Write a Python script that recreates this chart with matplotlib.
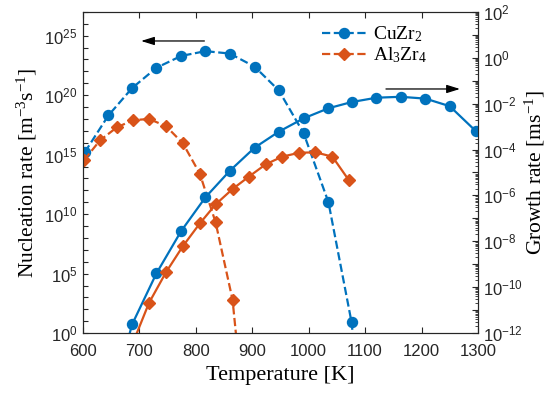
import numpy as np
import matplotlib
matplotlib.use("Agg")
import matplotlib.pyplot as plt
from matplotlib.ticker import FixedLocator, FuncFormatter, LogLocator, NullFormatter

# Data (temperature in K, values as log10)
t_cu_nuc = [603, 645, 687, 730, 774, 817, 860, 904, 947, 991, 1035, 1076, 1120]
log_cu_nuc = [15.2, 18.3, 20.6, 22.3, 23.3, 23.7, 23.5, 22.4, 20.4, 16.8, 11.0, 0.9, -20.0]

t_cu_gr = [645, 687, 730, 774, 817, 860, 904, 947, 991, 1035, 1076, 1120, 1163, 1207, 1250, 1296]
log_cu_gr = [-15.4, -11.62, -9.40, -7.55, -6.08, -4.93, -3.92, -3.22, -2.64, -2.20, -1.93,
             -1.74, -1.70, -1.78, -2.11, -3.19]

t_al_nuc = [602, 630, 660, 689, 717, 747, 777, 807, 835, 865, 894]
log_al_nuc = [14.55, 16.2, 17.3, 17.9, 18.0, 17.4, 15.95, 13.4, 9.3, 2.8, -11.0]

t_al_gr = [688, 717, 747, 777, 807, 835, 865, 894, 924, 953, 983, 1012, 1042, 1071]
log_al_gr = [-12.45, -10.68, -9.35, -8.21, -7.22, -6.39, -5.72, -5.18, -4.64, -4.31, -4.14,
             -4.12, -4.31, -5.33]

blue = "#0072BD"
orange = "#D95319"
dark = "#262626"

plt.rcParams["font.family"] = "Liberation Sans"
plt.rcParams["mathtext.default"] = "regular"
plt.rcParams["axes.edgecolor"] = dark
plt.rcParams["xtick.color"] = dark
plt.rcParams["ytick.color"] = dark

serif = "Liberation Serif"

fig = plt.figure(figsize=(5.5, 3.97), dpi=100)
ax1 = fig.add_axes([0.151, 0.161, 0.718, 0.809])
ax2 = ax1.twinx()

# nucleation (left axis, dashed)
ax1.semilogy(t_cu_nuc, 10.0 ** np.array(log_cu_nuc), "--o", color=blue, lw=1.6, ms=7.2,
             label="CuZr$_2$")
ax1.semilogy(t_al_nuc, 10.0 ** np.array(log_al_nuc), "--D", color=orange, lw=1.6, ms=6.2,
             label="Al$_3$Zr$_4$")

# growth (right axis, solid)
ax2.semilogy(t_cu_gr, 10.0 ** np.array(log_cu_gr), "-o", color=blue, lw=1.6, ms=7.2)
ax2.semilogy(t_al_gr, 10.0 ** np.array(log_al_gr), "-D", color=orange, lw=1.6, ms=6.2)

ax1.set_xlim(600, 1300)
ax1.set_ylim(1e0, 1e27)
ax2.set_ylim(1e-12, 1e2)

# ticks
ax1.set_xticks(np.arange(600, 1301, 100))
ax1.yaxis.set_major_locator(FixedLocator([10.0 ** k for k in range(0, 28)]))
ax1.yaxis.set_minor_locator(FixedLocator([]))
ax1.yaxis.set_major_formatter(FuncFormatter(
    lambda v, p: "$10^{%d}$" % round(np.log10(v)) if round(np.log10(v)) % 5 == 0 else ""))
ax2.yaxis.set_major_locator(FixedLocator([10.0 ** k for k in range(-12, 3)]))
ax2.yaxis.set_minor_locator(LogLocator(base=10, subs=np.arange(2, 10), numticks=30))
ax2.yaxis.set_minor_formatter(NullFormatter())
ax2.yaxis.set_major_formatter(FuncFormatter(
    lambda v, p: "$10^{%d}$" % round(np.log10(v)) if round(np.log10(v)) % 2 == 0 else ""))

ax1.tick_params(axis="x", direction="in", top=True, length=4, labelsize=12, width=0.8, pad=8)
ax1.tick_params(axis="y", direction="in", length=3.5, labelsize=12, width=0.8, pad=4)
ax2.tick_params(axis="y", which="major", direction="in", length=4, labelsize=12, width=0.8)
ax2.tick_params(axis="y", which="minor", direction="in", length=2, width=0.6)

ax1.set_xlabel("Temperature [K]", family=serif, fontsize=16, labelpad=5)
ax1.set_ylabel("Nucleation rate [m$^{-3}$s$^{-1}$]", family=serif, fontsize=15.5, labelpad=4)
ax2.set_ylabel("Growth rate [ms$^{-1}$]", family=serif, fontsize=15.5, labelpad=0)

# arrows pointing to each axis
ax1.annotate("", xy=(698, 3.6e24), xytext=(820, 3.6e24),
             arrowprops=dict(arrowstyle="-|>,head_length=0.8,head_width=0.25", color="k", lw=0.9))
ax2.annotate("", xy=(1273, 0.0437), xytext=(1132, 0.0437),
             arrowprops=dict(arrowstyle="-|>,head_length=0.8,head_width=0.25", color="k", lw=0.9))

ax1.legend(loc="upper left", bbox_to_anchor=(0.605, 0.96), frameon=False, numpoints=1,
           handlelength=2.3, handletextpad=0.3, borderpad=0, borderaxespad=0, labelspacing=0.05,
           prop={"family": serif, "size": 14})

fig.savefig("out.png", dpi=100)
